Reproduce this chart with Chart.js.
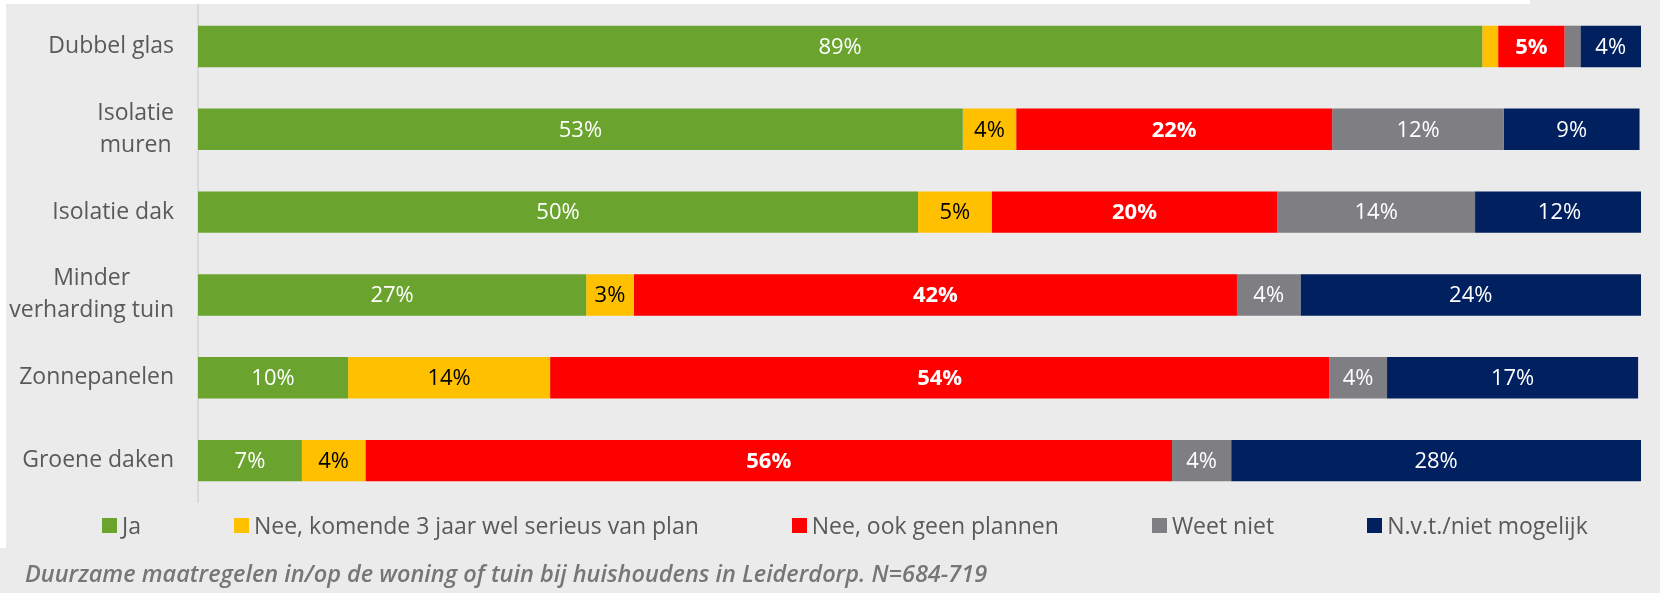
<!DOCTYPE html>
<html>
<head>
<meta charset="utf-8">
<script src="https://cdn.jsdelivr.net/npm/chart.js@4.4.1/dist/chart.umd.min.js"></script>
<style>
  html, body { margin: 0; padding: 0; background: #ebebeb; }
  body { width: 1660px; height: 593px; position: relative; overflow: hidden; font-family: "Open Sans", sans-serif; }
  #chart { position: absolute; left: 0; top: 0; }
  .strip { position: absolute; background: #fff; }
  #legend { position: absolute; left: 102px; top: 512px; display: flex; gap: 93px; font-size: 23px; color: #595959; line-height: 27px; white-space: nowrap; }
  #legend .item { display: flex; align-items: center; }
  #legend .box { width: 15px; height: 15px; margin-right: 5px; }
  #title { position: absolute; left: 25px; top: 558px; font-size: 23.5px; font-style: italic; font-weight: 600; color: #767676; line-height: 30px; white-space: nowrap; }
</style>
</head>
<body>
<div class="strip" style="left:0;top:0;width:1530px;height:4px"></div>
<div class="strip" style="left:0;top:0;width:6px;height:548px"></div>
<canvas id="chart" width="1660" height="593"></canvas>
<div id="legend"></div>
<div id="title"></div>
<script>
const categories = ["Dubbel glas", ["Isolatie", "muren"], "Isolatie dak", ["Minder", "verharding tuin"], "Zonnepanelen", "Groene daken"];
const seriesNames = ["Ja", "Nee, komende 3 jaar wel serieus van plan", "Nee, ook geen plannen", "Weet niet", "N.v.t./niet mogelijk"];
const ja = [89, 53, 49.9, 26.9, 10.4, 7.2];
const komend = [1.1, 3.7, 5.1, 3.3, 14.0, 4.4];
const geenPlannen = [4.6, 21.9, 19.8, 41.8, 54.0, 55.9];
const weetNiet = [1.1, 11.9, 13.7, 4.4, 4.0, 4.1];
const nvt = [4.2, 9.4, 11.7, 23.6, 17.4, 28.4];
const colors = ["#6aa42f", "#ffc000", "#ff0000", "#7f7f83", "#002060"];
const labelColors = ["#ffffff", "#000000", "#ffffff", "#ffffff", "#ffffff"];
const labelBold = [false, false, true, false, false];
const title = "Duurzame maatregelen in/op de woning of tuin bij huishoudens in Leiderdorp. N=684-719";

const allSeries = [ja, komend, geenPlannen, weetNiet, nvt];

// labels in the middle of each segment
const segmentLabels = {
  id: "segmentLabels",
  afterDatasetsDraw(chart) {
    const ctx = chart.ctx;
    ctx.save();
    ctx.textAlign = "center";
    ctx.textBaseline = "middle";
    chart.data.datasets.forEach((ds, i) => {
      const meta = chart.getDatasetMeta(i);
      meta.data.forEach((bar, j) => {
        const v = ds.data[j];
        if (v < 2) return;
        ctx.fillStyle = labelColors[i];
        ctx.font = (labelBold[i] ? "bold " : "") + "22px 'Open Sans'";
        ctx.fillText(Math.round(v) + "%", (bar.x + bar.base) / 2, bar.y + 1);
      });
    });
    ctx.restore();
  }
};

// category labels: block right-aligned, lines centred inside the block
const categoryLabels = {
  id: "categoryLabels",
  afterDraw(chart) {
    const ctx = chart.ctx;
    const y = chart.scales.y;
    const right = y.right - 24;
    ctx.save();
    ctx.font = "23px 'Open Sans'";
    ctx.fillStyle = "#595959";
    ctx.textAlign = "center";
    ctx.textBaseline = "middle";
    categories.forEach((c, i) => {
      const lines = Array.isArray(c) ? c : [c];
      const w = Math.max(...lines.map(l => ctx.measureText(l).width));
      const cy = y.getPixelForValue(i);
      lines.forEach((l, k) => {
        ctx.fillText(l, right - w / 2, cy + (k - (lines.length - 1) / 2) * 32);
      });
    });
    ctx.restore();
  }
};

new Chart(document.getElementById("chart"), {
  type: "bar",
  data: {
    labels: categories,
    datasets: allSeries.map((d, i) => ({
      label: seriesNames[i],
      data: d,
      backgroundColor: colors[i],
      barPercentage: 0.5,
      categoryPercentage: 1
    }))
  },
  options: {
    indexAxis: "y",
    responsive: false,
    animation: false,
    devicePixelRatio: 1,
    layout: { padding: { left: 0, right: 19, top: 5, bottom: 91 } },
    scales: {
      x: { stacked: true, min: 0, max: 100, display: false },
      y: {
        stacked: true,
        grid: { display: false, drawTicks: false },
        border: { display: true, color: "#d9d9d9", width: 2 },
        ticks: { display: false },
        afterFit(scale) { scale.width = 198; }
      }
    },
    plugins: {
      legend: { display: false },
      tooltip: { enabled: false }
    }
  },
  plugins: [segmentLabels, categoryLabels]
});

document.getElementById("legend").innerHTML = seriesNames.map((n, i) => `
  <div class="item"><span class="box" style="background:${colors[i]}"></span><span>${n}</span></div>
`).join("");
document.getElementById("title").textContent = title;
</script>
</body>
</html>
